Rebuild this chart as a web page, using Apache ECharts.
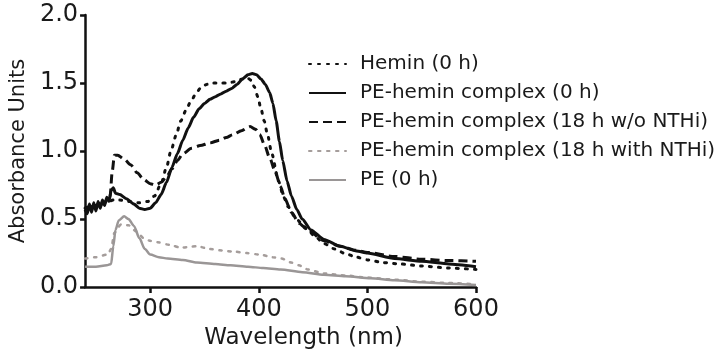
<!DOCTYPE html>
<html>
<head>
<meta charset="utf-8">
<script src="https://cdn.jsdelivr.net/npm/echarts@6/dist/echarts.min.js"></script>
<style>
html,body{margin:0;padding:0;background:#fff;}
#chart{width:723px;height:355px;}
</style>
</head>
<body>
<div id="chart"></div>
<script>
// Tick labels
const xTicks = [300, 400, 500, 600];
const yTicks = [0, 0.5, 1.0, 1.5, 2.0];

// Series names
const seriesNames = [
  'Hemin (0 h)',
  'PE-hemin complex (0 h)',
  'PE-hemin complex (18 h w/o NTHi)',
  'PE-hemin complex (18 h with NTHi)',
  'PE (0 h)'
];

// Hemin (0 h)
const heminX = [240, 250, 260, 266, 272, 280, 290, 298, 304, 310, 315, 319, 324, 328, 333, 337, 342, 346, 352, 358, 365, 371, 378, 385, 389, 393, 396, 399, 402, 405, 408, 412, 418, 423, 427, 433, 439, 445, 452, 460, 470, 480, 490, 500, 515, 530, 550, 575, 600];
const heminY = [0.58, 0.60, 0.62, 0.64, 0.64, 0.63, 0.62, 0.63, 0.67, 0.76, 0.88, 1.00, 1.12, 1.22, 1.30, 1.36, 1.42, 1.46, 1.49, 1.50, 1.50, 1.50, 1.51, 1.53, 1.54, 1.52, 1.47, 1.40, 1.31, 1.22, 1.12, 0.98, 0.78, 0.66, 0.59, 0.52, 0.47, 0.42, 0.37, 0.32, 0.28, 0.245, 0.22, 0.20, 0.18, 0.17, 0.155, 0.14, 0.13];

// PE-hemin complex (0 h)
const complex0X = [240, 242, 244, 246, 248, 250, 252, 254, 256, 258, 260, 262, 264, 266, 268, 272, 278, 285, 290, 295, 300, 305, 310, 315, 320, 325, 330, 335, 340, 345, 350, 355, 360, 365, 370, 375, 380, 385, 390, 394, 398, 402, 406, 410, 413, 416, 419, 422, 426, 430, 435, 440, 448, 460, 475, 490, 500, 525, 550, 575, 600];
const complex0Y = [0.57, 0.54, 0.61, 0.55, 0.62, 0.56, 0.63, 0.58, 0.64, 0.60, 0.66, 0.63, 0.71, 0.73, 0.69, 0.68, 0.65, 0.61, 0.58, 0.57, 0.58, 0.62, 0.68, 0.77, 0.88, 0.98, 1.08, 1.17, 1.25, 1.31, 1.35, 1.38, 1.40, 1.42, 1.44, 1.46, 1.49, 1.53, 1.56, 1.57, 1.56, 1.53, 1.49, 1.43, 1.35, 1.22, 1.07, 0.93, 0.78, 0.67, 0.57, 0.50, 0.42, 0.35, 0.30, 0.265, 0.25, 0.21, 0.19, 0.17, 0.15];

// PE-hemin complex (18 h w/o NTHi)
const woX = [240, 245, 250, 255, 260, 263, 265, 267, 270, 276, 282, 288, 294, 300, 305, 310, 315, 320, 325, 330, 338, 346, 355, 364, 370, 376, 384, 392, 397, 401, 405, 410, 415, 420, 424, 430, 437, 445, 460, 475, 490, 500, 525, 550, 575, 600];
const woY = [0.58, 0.59, 0.60, 0.61, 0.63, 0.66, 0.85, 0.97, 0.97, 0.94, 0.90, 0.84, 0.79, 0.76, 0.75, 0.77, 0.81, 0.87, 0.93, 0.98, 1.02, 1.04, 1.06, 1.08, 1.10, 1.12, 1.15, 1.18, 1.16, 1.12, 1.05, 0.95, 0.85, 0.74, 0.65, 0.55, 0.47, 0.42, 0.34, 0.30, 0.27, 0.255, 0.225, 0.205, 0.195, 0.19];

// PE-hemin complex (18 h with NTHi)
const withX = [240, 250, 261, 264, 267, 273, 280, 287, 294, 300, 307, 318, 328, 343, 355, 364, 378, 389, 400, 413, 421, 430, 437, 445, 460, 480, 500, 525, 550, 575, 600];
const withY = [0.21, 0.22, 0.24, 0.28, 0.40, 0.46, 0.455, 0.41, 0.36, 0.34, 0.33, 0.31, 0.29, 0.30, 0.28, 0.27, 0.26, 0.25, 0.24, 0.22, 0.21, 0.18, 0.16, 0.13, 0.10, 0.085, 0.07, 0.055, 0.04, 0.03, 0.02];

// PE (0 h)
const peX = [240, 250, 260, 264, 266, 268, 271, 276, 280, 285, 290, 295, 300, 308, 316, 330, 343, 360, 374, 390, 404, 420, 440, 460, 480, 503, 525, 550, 575, 600];
const peY = [0.15, 0.15, 0.16, 0.17, 0.30, 0.42, 0.49, 0.52, 0.50, 0.45, 0.36, 0.28, 0.24, 0.22, 0.21, 0.20, 0.18, 0.17, 0.16, 0.15, 0.14, 0.13, 0.11, 0.09, 0.08, 0.065, 0.05, 0.035, 0.025, 0.015];

function zip(xs, ys) { return xs.map((x, i) => [x, ys[i]]); }

const FONT = 'DejaVu Sans';
const chart = echarts.init(document.getElementById('chart'), null, {renderer: 'canvas'});

chart.setOption({
  animation: false,
  backgroundColor: '#ffffff',
  grid: {left: 82, right: 247, top: 15, bottom: 63, containLabel: false},
  legend: {
    orient: 'vertical',
    left: 303,
    top: 48,
    itemWidth: 37,
    itemHeight: 14,
    itemGap: 7,
    data: seriesNames,
    itemStyle: {opacity: 0},
    textStyle: {fontFamily: FONT, fontSize: 20, color: '#1a1a1a', lineHeight: 22, padding: [0, 0, 0, 9]}
  },
  xAxis: {
    type: 'value',
    min: 240,
    max: 600,
    name: 'Wavelength (nm)',
    nameLocation: 'middle',
    nameGap: 34,
    nameTextStyle: {fontFamily: FONT, fontSize: 23, color: '#1a1a1a', padding: [0, 0, 0, 46]},
    axisLine: {onZero: false, lineStyle: {color: '#111', width: 2.5}},
    axisTick: {show: true, length: 6, lineStyle: {width: 2.5, color: '#111'}, customValues: xTicks},
    axisLabel: {fontFamily: FONT, fontSize: 24, color: '#1a1a1a', margin: 11, customValues: xTicks},
    splitLine: {show: false}
  },
  yAxis: {
    type: 'value',
    min: 0,
    max: 2.0,
    interval: 0.5,
    name: 'Absorbance Units',
    nameLocation: 'middle',
    nameGap: 48,
    nameTextStyle: {fontFamily: FONT, fontSize: 21, color: '#1a1a1a'},
    axisLine: {show: true, lineStyle: {color: '#111', width: 2.5}},
    axisTick: {show: true, length: 5, lineStyle: {width: 2.5, color: '#111'}},
    axisLabel: {fontFamily: FONT, fontSize: 24, color: '#1a1a1a', margin: 7, formatter: v => v.toFixed(1)},
    splitLine: {show: false}
  },
  series: [
    {
      name: seriesNames[0], type: 'line', showSymbol: false, symbol: 'none', smooth: 0.25, smoothMonotone: 'x', z: 5,
      data: zip(heminX, heminY),
      lineStyle: {color: '#111', width: 3, type: [2, 7], cap: 'round'},
      itemStyle: {color: '#111'}
    },
    {
      name: seriesNames[1], type: 'line', showSymbol: false, symbol: 'none', smooth: 0.2, smoothMonotone: 'x', z: 6,
      data: zip(complex0X, complex0Y),
      lineStyle: {color: '#111', width: 3},
      itemStyle: {color: '#111'}
    },
    {
      name: seriesNames[2], type: 'line', showSymbol: false, symbol: 'none', smooth: 0.25, smoothMonotone: 'x', z: 5,
      data: zip(woX, woY),
      lineStyle: {color: '#111', width: 3, type: [9, 5]},
      itemStyle: {color: '#111'}
    },
    {
      name: seriesNames[3], type: 'line', showSymbol: false, symbol: 'none', smooth: 0.25, smoothMonotone: 'x', z: 3,
      data: zip(withX, withY),
      lineStyle: {color: '#a59d9b', width: 2.5, type: [2.5, 6.5], cap: 'round'},
      itemStyle: {color: '#a59d9b'}
    },
    {
      name: seriesNames[4], type: 'line', showSymbol: false, symbol: 'none', smooth: 0.25, smoothMonotone: 'x', z: 3,
      data: zip(peX, peY),
      lineStyle: {color: '#9a9696', width: 2.5},
      itemStyle: {color: '#9a9696'}
    }
  ]
});
</script>
</body>
</html>
